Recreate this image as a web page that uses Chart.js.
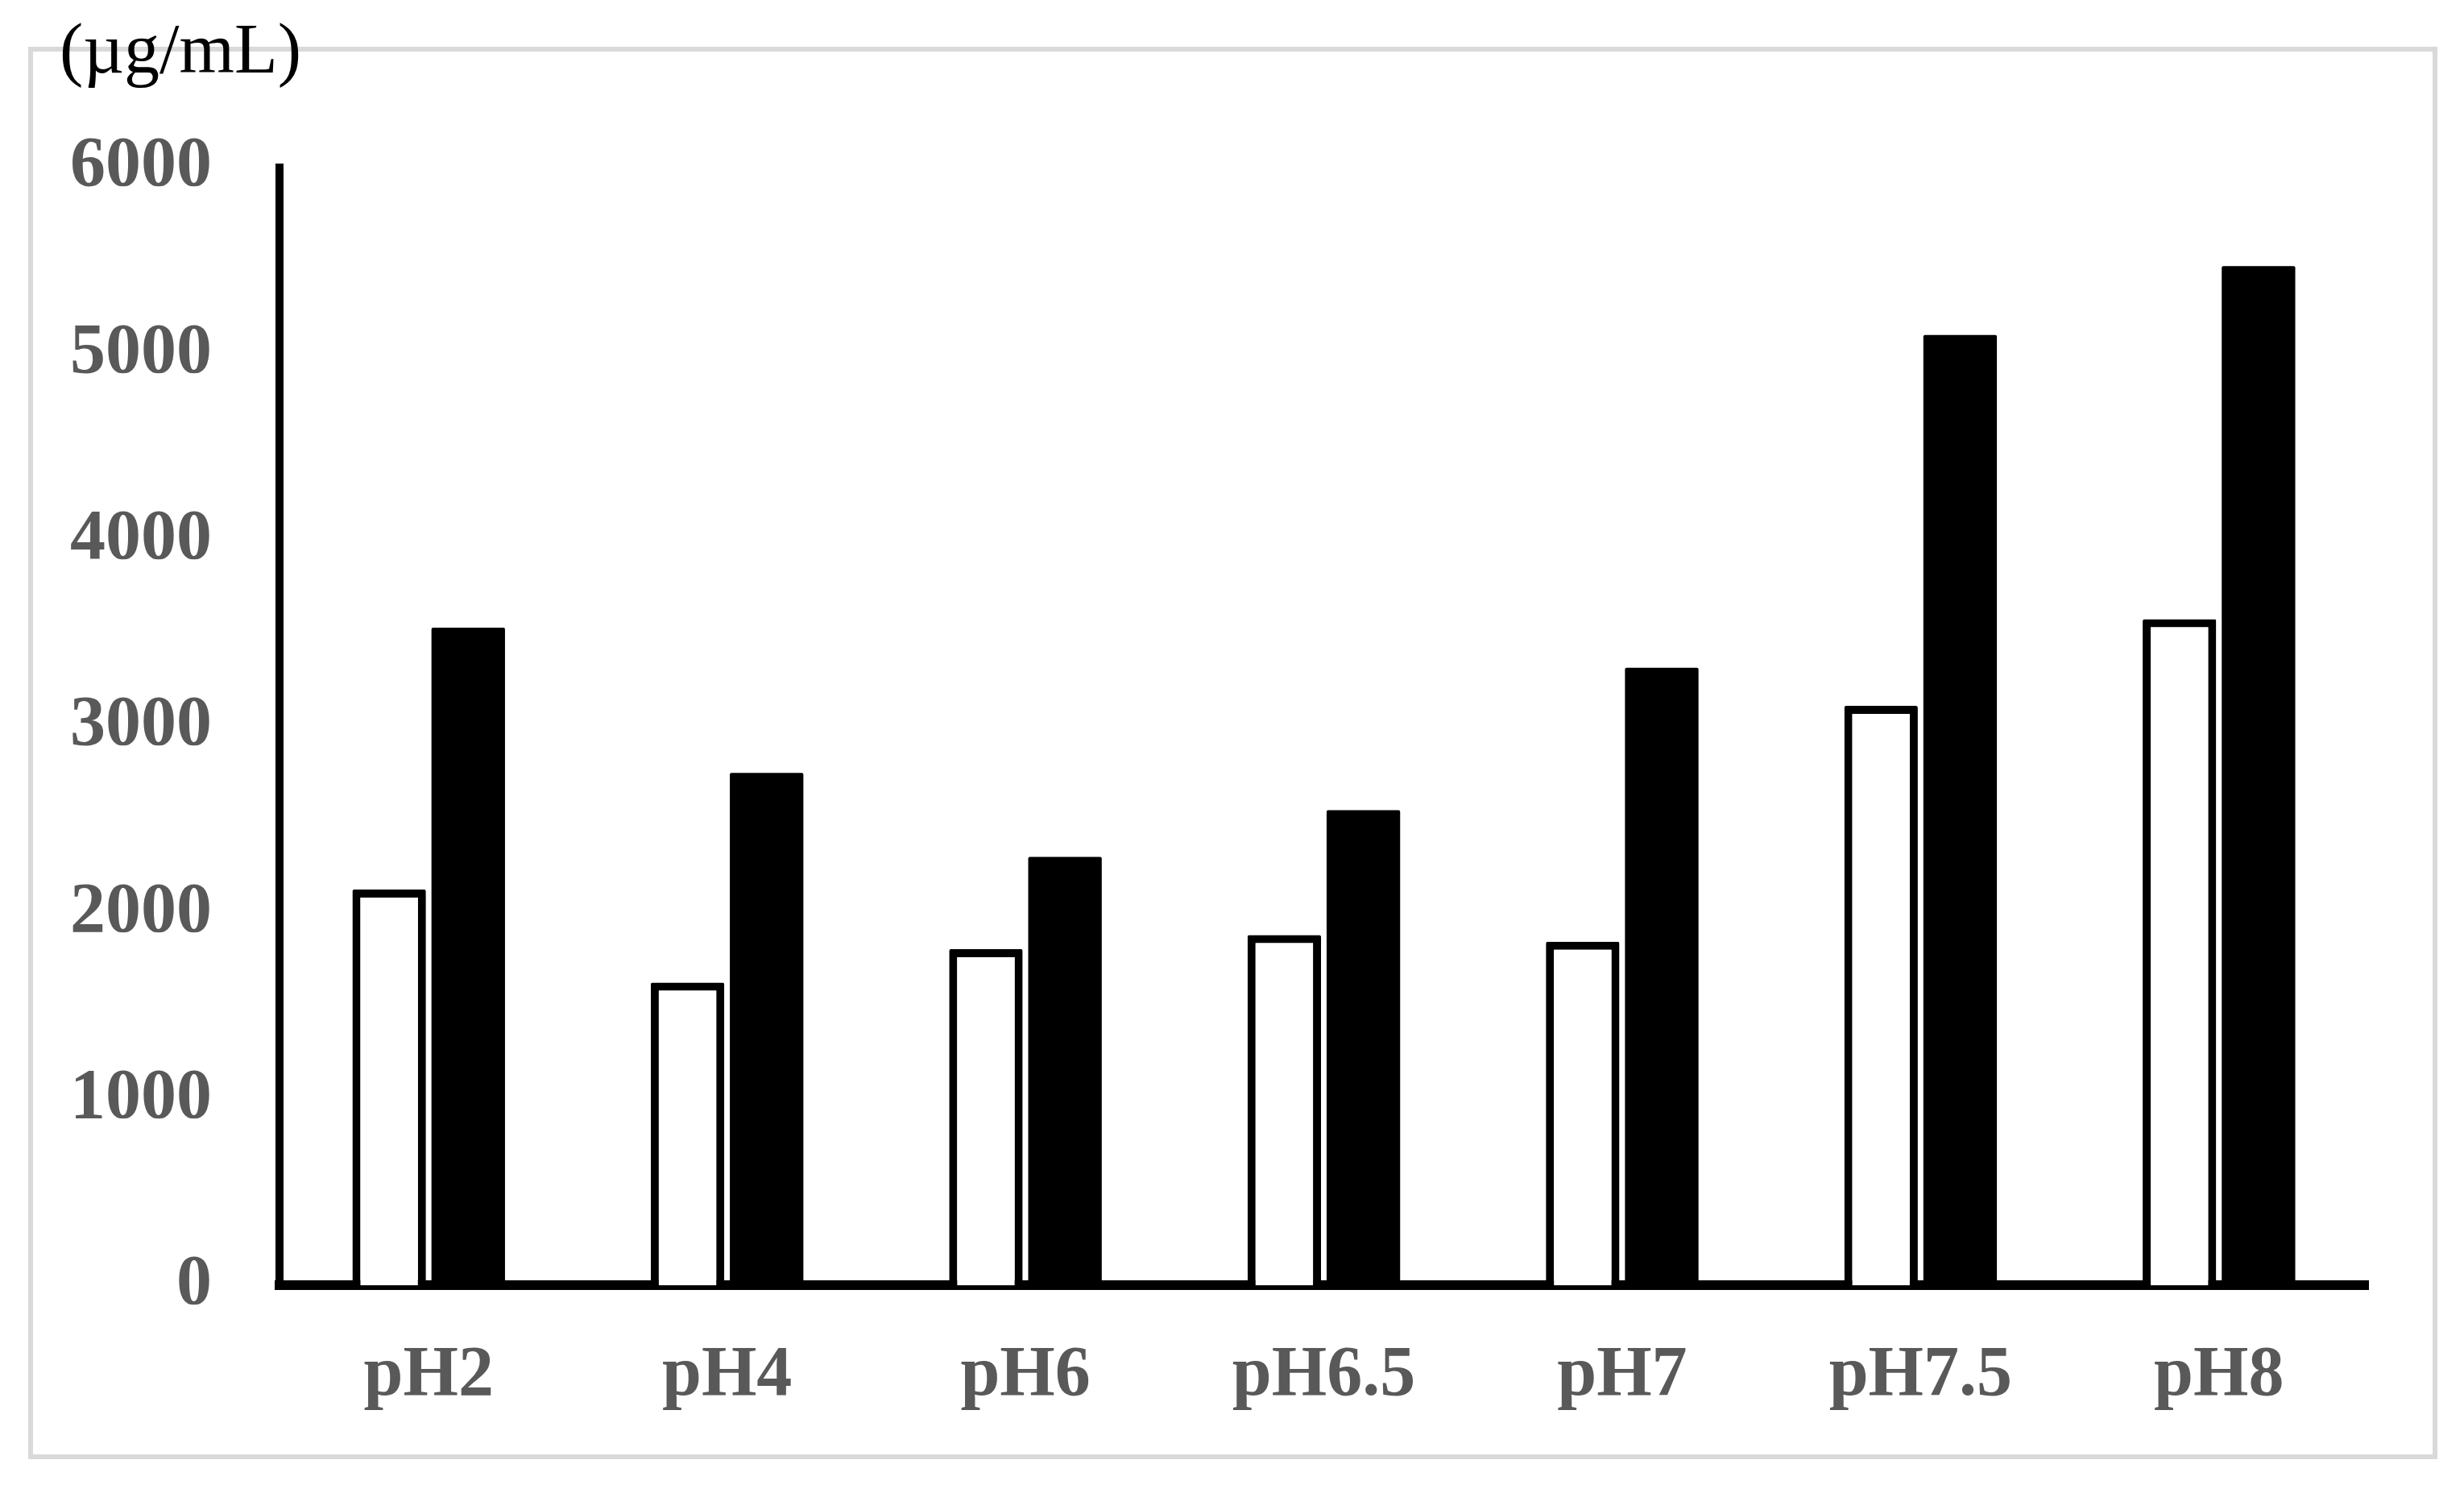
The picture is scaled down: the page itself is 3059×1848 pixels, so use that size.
<!DOCTYPE html>
<html lang="en">
<head>
    <meta charset="UTF-8">
    <title>Solubility by pH</title>
    <script src="https://cdn.jsdelivr.net/npm/chart.js"></script>
    <style>
        body { margin: 0; background: white; overflow: hidden; }
        .marco { position: absolute; left: 35px; top: 58px; width: 2979px; height: 1741px; border: 6px solid #d9d9d9; }
        #grafico { position: absolute; left: 0; top: 0; }
    </style>
</head>
<body>
    <div class="marco"></div>
    <canvas id="grafico" width="3059" height="1848"></canvas>

    <script>
        // datos
        const categorias = ["pH2", "pH4", "pH6", "pH6.5", "pH7", "pH7.5", "pH8"];
        const serieBlanca = [2125, 1625, 1805, 1880, 1845, 3110, 3575];
        const serieNegra = [3530, 2750, 2300, 2550, 3315, 5100, 5470];
        const unidad = "(\u00b5g/mL)";

        const fuenteEje = { family: "'Liberation Serif', 'Times New Roman', serif", size: 88, weight: 'bold' };

        let ctx = document.getElementById('grafico').getContext('2d');
        let chart = new Chart(ctx, {
            type: 'bar',
            data: {
                labels: categorias,
                datasets: [
                    { data: serieBlanca, backgroundColor: 'white', borderColor: 'black', borderWidth: 10, borderRadius: 2,
                      categoryPercentage: 0.53, barPercentage: 0.93 },
                    { data: serieNegra, backgroundColor: 'black', borderColor: 'black', borderWidth: 0, borderRadius: 2,
                      categoryPercentage: 0.53, barPercentage: 0.93 }
                ]
            },
            options: {
                responsive: false,
                animation: false,
                devicePixelRatio: 1,
                layout: { padding: { left: 74, right: 119, top: 0, bottom: 37 } },
                plugins: {
                    legend: { display: false },
                    tooltip: { enabled: false },
                    title: {
                        display: true, text: unidad, align: 'start', color: 'black',
                        font: { family: "'Liberation Serif', 'Times New Roman', serif", size: 88, weight: 'normal' },
                        padding: { top: 14, bottom: 88 }
                    }
                },
                scales: {
                    x: {
                        grid: { display: false, drawTicks: false },
                        border: { display: true, color: 'black', width: 12 },
                        ticks: { color: '#595959', font: fuenteEje, padding: 60 },
                        afterFit: (escala) => { escala.height -= 10; }
                    },
                    y: {
                        min: 0, max: 6000,
                        grid: { display: false, drawTicks: false },
                        border: { display: true, color: 'black', width: 10 },
                        ticks: { stepSize: 1000, color: '#595959', font: fuenteEje, padding: 84,
                                 callback: (v) => String(v) },
                        afterFit: (escala) => { escala.width = 273; }
                    }
                }
            }
        });
    </script>
</body>
</html>
